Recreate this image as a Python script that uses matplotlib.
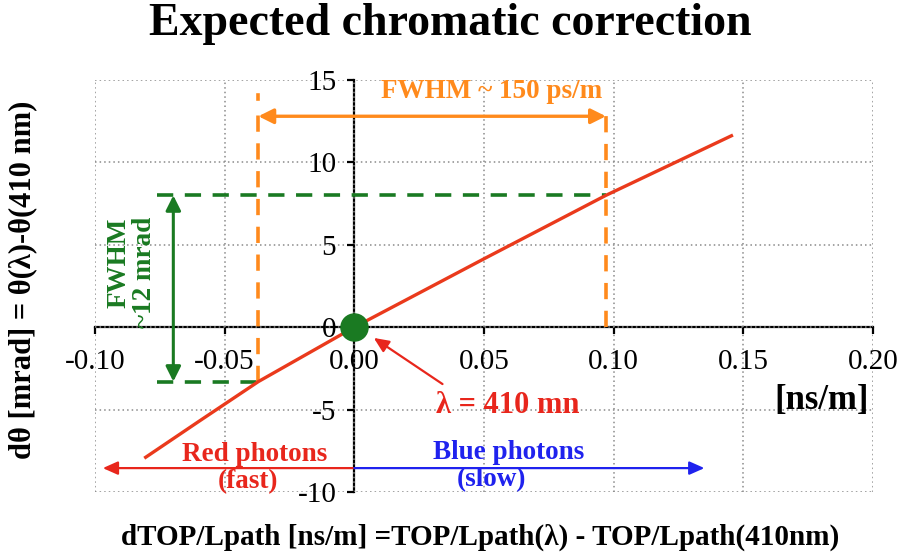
import matplotlib
matplotlib.use("Agg")
import matplotlib.pyplot as plt

# ---- data ----
dtop = [-0.081, -0.060, -0.037, 0.0, 0.050, 0.097, 0.146]
dtheta = [-7.95, -5.72, -3.30, 0.0, 4.15, 8.00, 11.66]
x_ticks = [-0.10, -0.05, 0.00, 0.05, 0.10, 0.15, 0.20]
x_tick_labels = ["-0.10", "-0.05", "0.00", "0.05", "0.10", "0.15", "0.20"]
y_ticks = [-10, -5, 0, 5, 10, 15]
y_tick_labels = ["-10", "-5", "0", "5", "10", "15"]
fwhm_t = [-0.037, 0.097]      # ns/m
fwhm_theta = [-3.3, 8.0]      # mrad
fwhm_arrow_y = 12.8
photon_arrow_y = -8.55
red_arrow_end = -0.097
blue_arrow_end = 0.135

RED = "#ea3a1c"
RED_TXT = "#e8261c"
ORANGE = "#ff8a1c"
GREEN = "#1a7a22"
BLUE = "#1f22ee"
SERIF = ["Liberation Serif", "DejaVu Serif"]

plt.rcParams["font.family"] = SERIF
fig = plt.figure(figsize=(8.98, 5.6), dpi=100)
ax = fig.add_axes([95/898, 1-492/560, (873-95)/898, (492-80)/560])
ax.set_xlim(-0.10, 0.20)
ax.set_ylim(-10, 15)

# grid and frame
ax.set_xticks(x_ticks)
ax.set_yticks(y_ticks)
ax.grid(True, color="#8a8a8a", linestyle=(0, (1, 2)), linewidth=1.1)
for s in ["top", "right"]:
    ax.spines[s].set_visible(False)
ax.spines["bottom"].set_position(("data", 0))
ax.spines["left"].set_position(("data", 0))
ax.spines["bottom"].set_linewidth(1.6)
ax.spines["left"].set_linewidth(1.6)
ax.spines["bottom"].set_zorder(1)
ax.spines["left"].set_zorder(1)
ax.set_xticklabels(x_tick_labels, fontsize=21)
ax.set_yticklabels(y_tick_labels, fontsize=21)
ax.tick_params(axis="x", direction="out", length=5, width=1.6, pad=11)
ax.tick_params(axis="y", direction="out", length=5, width=1.6, pad=8)

# dashed FWHM guides
dash = dict(linewidth=2.6, dashes=(4.5, 3.2))
ax.plot([-0.076, fwhm_t[1]], [fwhm_theta[1]]*2, color=GREEN, **dash, zorder=3)
ax.plot([-0.076, fwhm_t[0]], [fwhm_theta[0]]*2, color=GREEN, **dash, zorder=3)
ax.plot([fwhm_t[0]]*2, [fwhm_theta[0], 13.0], color=ORANGE, **dash, zorder=3)
ax.plot([fwhm_t[0]]*2, [13.85, 14.1], color=ORANGE, linewidth=2.6, zorder=3)
ax.plot([fwhm_t[1]]*2, [0, 13.05], color=ORANGE, **dash, zorder=3)

# curve
ax.plot(dtop, dtheta, color=RED, linewidth=2.4, zorder=4, solid_capstyle="butt")
ax.plot([0], [0], "o", color=GREEN, markersize=19.5, zorder=5)

# arrows
ax.annotate("", xy=(fwhm_t[0], fwhm_arrow_y), xytext=(fwhm_t[1], fwhm_arrow_y),
            arrowprops=dict(arrowstyle="<|-|>,head_length=0.9,head_width=0.45",
                            color=ORANGE, lw=2.4, shrinkA=0, shrinkB=0))
ax.annotate("", xy=(-0.0698, fwhm_theta[1]), xytext=(-0.0698, fwhm_theta[0]),
            arrowprops=dict(arrowstyle="<|-|>,head_length=0.9,head_width=0.45",
                            color=GREEN, lw=2.2, shrinkA=0, shrinkB=0))
ax.annotate("", xy=(red_arrow_end, photon_arrow_y), xytext=(0, photon_arrow_y),
            arrowprops=dict(arrowstyle="-|>,head_length=0.9,head_width=0.4",
                            color=RED_TXT, lw=1.6, shrinkA=0, shrinkB=0))
ax.annotate("", xy=(blue_arrow_end, photon_arrow_y), xytext=(0, photon_arrow_y),
            arrowprops=dict(arrowstyle="-|>,head_length=0.9,head_width=0.4",
                            color=BLUE, lw=1.6, shrinkA=0, shrinkB=0))
ax.annotate("", xy=(0.0075, -0.65), xytext=(0.034, -3.45),
            arrowprops=dict(arrowstyle="-|>,head_length=0.9,head_width=0.4",
                            color=RED_TXT, lw=1.6, shrinkA=0, shrinkB=0))

# texts
bold = dict(fontweight="bold")
ax.text(0.053, 14.3, "FWHM ~ 150 ps/m", color=ORANGE, fontsize=19.5, ha="center", va="center", **bold)
ax.text(-0.0858, 3.3, "FWHM\n~12 mrad", color=GREEN, fontsize=19.5, rotation=90,
        ha="center", va="center", multialignment="right", linespacing=1.05, **bold)
ax.text(0.059, -4.75, "λ = 410 mn", color=RED_TXT, fontsize=22, ha="center", va="center", **bold)
ax.text(-0.0385, -7.75, "Red photons", color=RED_TXT, fontsize=19.5, ha="center", va="center", **bold)
ax.text(-0.041, -9.4, "(fast)", color=RED_TXT, fontsize=19.5, ha="center", va="center", **bold)
ax.text(0.0595, -7.6, "Blue photons", color=BLUE, fontsize=19.5, ha="center", va="center", **bold)
ax.text(0.053, -9.25, "(slow)", color=BLUE, fontsize=19.5, ha="center", va="center", **bold)
ax.text(0.180, -4.45, "[ns/m]", color="black", fontsize=25, ha="center", va="center", **bold)

fig.text(450/898, 1-24/560, "Expected chromatic correction", fontsize=33, ha="center", va="center", **bold)
fig.text(23/898, 1-280/560, "dθ [mrad] = θ(λ)-θ(410 nm)", fontsize=22, rotation=90,
         ha="center", va="center", **bold)
fig.text(480/898, 1-537/560, "dTOP/Lpath [ns/m] =TOP/Lpath(λ) - TOP/Lpath(410nm)", fontsize=21,
         ha="center", va="center", **bold)

fig.savefig("out.png", dpi=100)
